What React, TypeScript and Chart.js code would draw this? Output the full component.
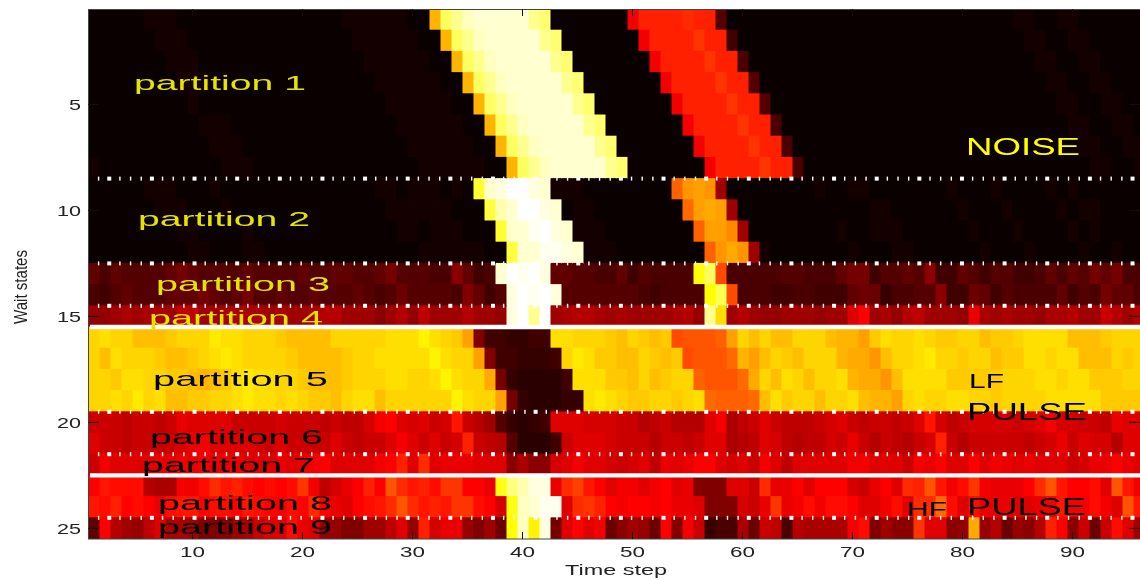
import React, { useEffect, useRef } from "react";
import { Chart, registerables } from "chart.js";

Chart.register(...registerables);

// Values are indices into the 64-level "hot" colormap (0..63), one array per wait state, 96 time steps.
const row01 = [0,0,0,0,0,1,1,1,0,0, 0,0,0,0,0,0,0,0,0,0, 0,0,0,1,1,1,1,1,1,0, 0,40,53,56,59,60,60,60,60,60, 56,54,0,0,0,0,0,0,0,22, 26,26,26,26,27,26,26,7,0,0, 0,0,0,0,0,0,0,0,0,0, 0,0,0,0,0,0,0,0,0,0, 0,0,0,0,1,1,0,0,1,1, 0,0,0,0,0,0];
const row02 = [0,0,0,0,0,0,1,1,1,0, 0,0,0,0,0,0,0,0,0,0, 0,0,0,0,1,1,1,1,1,1, 0,0,40,53,56,59,60,60,60,60, 60,56,54,0,0,0,0,0,0,0, 22,26,26,26,26,28,26,26,5,0, 0,0,0,0,0,0,0,0,0,0, 0,0,0,0,0,0,0,0,0,0, 0,0,0,0,0,1,1,0,0,1, 1,0,0,0,0,0];
const row03 = [0,0,0,0,0,0,0,1,1,1, 0,0,0,0,0,0,0,0,0,0, 0,0,0,0,0,1,1,1,1,1, 1,0,0,40,53,56,59,60,60,60, 60,60,56,54,0,0,0,0,0,0, 0,22,26,26,26,26,28,26,26,6, 0,0,0,0,0,0,0,0,0,0, 0,0,0,0,0,0,0,0,0,0, 0,0,0,0,0,0,1,1,0,0, 1,1,0,0,0,0];
const row04 = [0,0,0,0,0,0,0,0,1,1, 1,0,0,0,0,0,0,0,0,0, 0,0,0,0,0,0,1,1,1,1, 1,1,0,0,40,53,56,59,60,60, 60,60,60,56,54,0,0,0,0,0, 0,0,22,26,26,26,26,28,26,26, 7,0,0,0,0,0,0,0,0,0, 0,0,0,0,0,0,0,0,0,0, 0,0,0,0,0,0,0,1,1,0, 0,1,1,0,0,0];
const row05 = [0,0,0,0,0,0,0,0,0,1, 0,0,0,0,0,0,0,0,0,0, 0,0,0,0,0,0,0,1,1,1, 1,1,1,0,0,40,53,56,59,60, 60,60,60,60,56,54,0,0,0,0, 0,0,0,22,26,26,26,26,28,26, 26,7,0,0,0,0,0,0,0,0, 0,0,0,0,0,0,0,0,0,0, 0,0,0,0,0,0,0,0,1,1, 0,0,1,1,0,0];
const row06 = [0,0,0,0,0,0,0,0,0,0, 1,1,1,0,0,0,0,0,0,0, 0,0,0,0,0,0,0,0,1,1, 1,1,1,1,0,0,40,53,56,59, 60,60,60,60,60,56,54,0,0,0, 0,0,0,0,22,26,26,26,26,28, 26,26,6,0,0,0,0,0,0,0, 0,0,0,0,0,0,0,0,0,0, 0,0,0,0,0,0,0,0,0,1, 1,0,0,1,1,0];
const row07 = [0,0,0,0,0,0,0,0,0,0, 0,1,1,1,0,0,0,0,0,0, 0,0,0,0,0,0,0,0,0,1, 1,1,1,1,1,0,0,40,53,56, 59,60,60,60,60,60,56,54,0,0, 0,0,0,0,0,22,26,26,26,26, 28,26,26,6,0,0,0,0,0,0, 0,0,0,0,0,0,0,0,0,0, 0,0,0,0,0,0,0,0,0,0, 1,1,0,0,1,1];
const row08 = [1,0,0,0,0,0,0,0,0,0, 0,0,1,1,1,0,0,0,0,0, 0,0,0,0,0,0,0,0,0,0, 1,1,1,1,1,1,0,0,40,53, 56,59,60,60,60,60,60,56,54,0, 0,0,0,0,0,0,22,26,26,26, 26,28,26,26,6,0,0,0,0,0, 0,0,0,0,0,0,0,0,0,0, 0,0,0,0,0,0,0,0,0,0, 0,1,1,0,0,1];
const row09 = [0,0,0,0,0,1,1,1,0,0, 0,1,0,0,0,0,0,0,0,0, 0,0,0,0,0,0,1,1,0,1, 1,1,0,1,0,50,60,61,63,63, 61,60,1,1,1,0,0,0,0,0, 0,0,0,32,37,38,37,14,0,0, 0,0,0,0,0,0,1,0,0,1, 1,0,0,0,0,0,0,0,1,0, 0,0,1,0,0,0,0,1,0,1, 0,0,0,0,0,0];
const row10 = [0,0,0,0,0,0,1,1,1,0, 0,0,1,0,0,0,0,0,0,0, 0,0,0,0,0,0,0,1,1,1, 1,1,1,0,0,0,51,58,60,63, 63,61,60,0,1,1,0,0,0,0, 0,0,0,0,33,38,39,38,14,0, 0,0,0,0,0,0,0,0,0,0, 0,1,1,0,0,0,0,0,0,1, 0,0,0,1,0,0,0,0,1,0, 1,1,0,0,0,0];
const row11 = [0,0,0,0,0,0,0,0,1,1, 0,0,0,0,1,0,0,0,0,0, 0,0,0,0,0,0,0,0,1,1, 0,1,1,1,0,0,0,50,60,60, 62,63,61,60,1,1,1,0,0,0, 0,0,0,0,0,32,38,38,36,14, 0,0,0,0,0,0,0,0,1,0, 0,1,1,1,0,0,0,0,0,0, 1,0,0,0,1,0,0,0,0,1, 0,1,0,0,0,0];
const row12 = [0,0,0,0,0,0,0,0,0,1, 1,0,0,0,1,1,0,0,0,0, 0,0,0,0,0,0,0,0,0,0, 1,1,1,1,1,1,0,0,51,60, 60,62,62,61,60,1,1,1,0,0, 0,0,0,0,0,0,32,37,39,37, 14,1,0,0,0,0,0,0,0,1, 0,0,0,1,1,0,0,0,0,0, 0,1,0,0,0,1,0,0,0,0, 1,0,0,1,0,0];
const row13 = [8,6,8,7,7,7,7,8,10,8,7,7,7,7,8,7,7,7,7,8,7,7,8,8,7,7, 8,10,7,7,7,6,6,12,8,5, 6,60,63,62,63,61,8,8,7,7, 6,6,8,5,7,6,6,6,6,47,53,30,6,6,6, 6,6,7,7,6,6,6,8,10,10,5,7,7,8,7,12,5,5,8,7,5,7,7,5,5,6,8,6,8,7,10,8,10,6,6];
const row14 = [6,5,7,8,7,7,7,8,8,8,10,8,7,8,10,7,7,8,7,7,8,7,7,7,8,7, 6,7,9,7,7,7,7,6,11,8,5,7, 61,63,62,63,61, 7,7,7,7,7,7,7,6,5,6,6,6,6, 47,52,30,6,6, 6,5,5,6,6,5,5,5,8,9,9,4,6,6,7,7,12,5,5,9,8,5,7,6,6,6,6,8,5,7,6,10,8,8,6];
const row15 = [13,13,14,15,14,15,15,14,17,17,14,14,15,15,15,15,14,15,14,14,15,16,16,14,14,14, 12,14,16,13,17,14,14,14,16,14,14,13, 61,63,56,63, 14,15,16,16,15,14,15,14,14,14,14,15,16,13, 56,44,14,16,14, 13,13,14,14,14,13,14,14,20,23,14,15,13,16,17,14,14,14,13,21,15,14,15,14,14,13,15,15,16,14,14,18,16,14,16];
const row16 = [43,44,43,43,41,41,41,42,43,43,43,45,44,44,43,43,43,42,41,41,41,41,43,43,43,43, 43,44,44,44,46,44,43,42,38,11,5,5,4,4,5,5,44,44,43,43,43,42,41,43,42,41,42,30,31,31,31,32,38,43,41, 43,41,41,43,43,43,41,40,40,38,42,44,43,43,44,43,42,42,43,43,41,42,42,43,44,44,44,44,41,41,41,42,43,43,43];
const row17 = [43,41,44,43,43,43,42,41,41,42,43,44,45,44,43,43,43,43,42,41,41,41,41,42,43,43, 44,44,44,44,44,46,44,43,43,38,11,5,5,4,4,4,5,43,45,44,42,42,41,41,43,42,41,42,30,31,31,31,33,40,38, 41,43,42,41,43,43,43,40,39,39,37,41,43,43,44,45,43,43,42,43,43,41,42,42,44,44,43,44,44,41,41,41,43,42,43];
const row18 = [43,43,42,44,44,43,43,42,42,41,40,41,42,44,45,44,44,43,43,42,41,41,41,42,43,43, 43,44,44,43,43,44,46,44,43,43,39,10,4,3,3,3,3,5,44,44,44,42,42,41,43,41,42,43,43,32,31,31,31,33,39, 43,41,44,43,41,43,43,44,40,39,39,37,41,44,44,44,44,42,42,42,42,42,43,43,43,44,44,43,44,44,42,42,42,43,43];
const row19 = [43,43,44,43,45,43,44,41,41,42,42,43,43,44,45,44,44,43,44,43,42,42,41,43,44,44, 41,43,43,43,43,43,43,46,44,43,43,38,10,4,3,3,3,4,4,44,45,44,43,42,42,43,43,42,43,44,33,32,32,32,33, 41,44,42,43,43,41,43,43,44,41,40,40,38,43,44,43,43,44,44,43,43,42,43,43,43,43,44,44,44,44,44,42,42,42,42];
const row20 = [18,18,18,17,18,18,17,18,21,20,20,20,20,18,18,18,18,19,18,18,18,17,18,17,17,19, 22,23,20,19,20,18,19,25,18,16,14,7,4,3,4,5,20,20,20,19,19,19,18,18,16,17,18,16,16,16,20,22,15,17,18, 20,18,17,17,17,18,19,20,18,17,18,18,17,18,20,25,19,17,18,19,19,19,19,18,19,20,22,19,19,18,18,17,21,20,20];
const row21 = [20,18,18,17,18,18,18,18,19,21,22,20,20,20,20,19,18,20,18,18,18,18,20,18,17,18, 18,20,22,20,18,20,18,19,26,18,17,16,7,3,3,3,5,18,20,20,20,19,18,18,18,16,18,18,17,18,20,20,15,16,17, 20,19,17,16,17,17,19,18,21,18,16,18,17,16,18,19,26,18,16,18,18,18,18,18,17,18,19,21,18,20,19,19,16,20,20];
const row22 = [18,22,20,20,20,20,21,20,22,21,22,21,21,21,20,20,20,21,20,21,22,23,20,20,20,20, 22,23,26,20,27,20,21,21,21,20,20,20,12,15,12,12,19,20,22,20,20,19,18,19,20,17,21,20,21,23,23,20,19,20,18, 22,20,17,20,20,20,20,20,22,22,20,20,20,18,22,21,23,20,20,23,20,22,21,20,21,20,20,20,18,19,21,21,23,21,20];
const row23 = [23,25,24,24,24,16,15,15,22,22,24,27,25,26,24,23,24,23,24,28,22,17,19,21,23,26, 23,31,27,25,26,24,28,28,23,23,21,48,55,58,61,61,21,27,29,25,23,20,22,22,20,22,23,20,21,11,11,11,20,20,18, 27,21,21,23,20,23,23,23,19,18,21,23,20,27,26,31,25,22,24,28,22,21,21,21,23,27,31,25,23,23,24,20,31,25,22];
const row24 = [25,24,26,23,24,23,21,24,25,25,23,24,24,23,25,24,23,22,24,23,27,23,21,20,23,24, 25,27,31,27,25,26,25,28,28,24,23,19,48,59,60,62,62,20,27,28,26,23,22,23,23,22,23,21,21,20,11,11,11,19,18, 21,28,21,22,24,22,24,24,23,20,20,22,24,20,27,27,33,24,20,24,21,21,21,20,20,21,22,25,22,22,24,22,20,31,25];
const row25 = [8,23,16,14,13,17,20,15,15,14,11,11,12,14,15,18,20,20,24,21,20,13,13,11,11,14, 14,17,20,13,26,19,21,21,13,11,14,9,47,59,46,61,10,20,23,20,22,9,12,14,13,9,23,11,22,18,4,6,6,15,9, 18,17,6,16,15,15,15,15,22,24,11,14,12,12,28,20,20,12,13,39,13,16,9,13,12,16,26,23,12,18,9,18,24,20,14];

const waitStates = [row01,row02,row03,row04,row05,row06,row07,row08,row09,row10,row11,row12,row13,row14,row15,row16,row17,row18,row19,row20,row21,row22,row23,row24,row25];
const rowLabels = waitStates.map((_, i) => String(i + 1));
const timeSteps = row01.map((_, i) => i + 1);

const xTickValues = [10, 20, 30, 40, 50, 60, 70, 80, 90];
const yTickValues = [5, 10, 15, 20, 25];
const dottedAfterRow = [8, 12, 14, 19, 21, 24];
const solidAfterRow = [15, 22];
const xTitle = "Time step";
const yTitle = "Wait states";

const notes = [
  { text: "partition 1", left: 134, right: 306, base: 90, size: 21, color: "#e4e400" },
  { text: "partition 2", left: 138, right: 310, base: 225.5, size: 21, color: "#e4e400" },
  { text: "partition 3", left: 156, right: 330, base: 290.5, size: 21, color: "#e4e400" },
  { text: "partition 4", left: 149, right: 323, base: 325, size: 21, color: "#e4e400" },
  { text: "partition 5", left: 153, right: 328, base: 385.5, size: 21, color: "#000" },
  { text: "partition 6", left: 150, right: 323, base: 444, size: 21, color: "#000" },
  { text: "partition 7", left: 142, right: 315, base: 472, size: 21, color: "#000" },
  { text: "partition 8", left: 158, right: 332, base: 509.5, size: 21, color: "#000" },
  { text: "partition 9", left: 158, right: 332, base: 534, size: 21, color: "#000" },
  { text: "NOISE", left: 966, right: 1080, base: 155, size: 23, color: "#ffff00" },
  { text: "LF", left: 969, right: 1004, base: 388, size: 21, color: "#000" },
  { text: "PULSE", left: 967, right: 1087, base: 420, size: 23, color: "#000" },
  { text: "HF", left: 907, right: 947, base: 515.5, size: 21, color: "#000" },
  { text: "PULSE", left: 967, right: 1086, base: 515, size: 23, color: "#000" },
];

function hot(level: number) {
  const r = Math.min(1, (level + 1) / 24);
  const g = Math.max(0, Math.min(1, (level - 23) / 24));
  const b = Math.max(0, Math.min(1, (level - 47) / 16));
  return `rgb(${Math.round(r * 255)},${Math.round(g * 255)},${Math.round(b * 255)})`;
}

const FONT = '"Liberation Sans", Arial, sans-serif';

function fitText(ctx: any, text: string, left: number, right: number, base: number, size: number, color: string) {
  ctx.save();
  ctx.font = `${size}px ${FONT}`;
  ctx.fillStyle = color;
  ctx.textAlign = "left";
  ctx.textBaseline = "alphabetic";
  const w = ctx.measureText(text).width;
  ctx.translate(left, base);
  ctx.scale((right - left) / w, 1);
  ctx.fillText(text, 0, 0);
  ctx.restore();
}

const overlay = {
  id: "overlay",
  afterDatasetsDraw(chart: any) {
    const { ctx, chartArea: a, scales } = chart;
    const x = scales.x;
    const y = scales.y;
    const edge = (row: number) => (y.getPixelForValue(row - 1) + y.getPixelForValue(row)) / 2;

    ctx.save();
    // partition separators
    ctx.strokeStyle = "#fff";
    for (const r of solidAfterRow) {
      const py = edge(r);
      ctx.lineWidth = 4.4;
      ctx.beginPath();
      ctx.moveTo(a.left + 2, py);
      ctx.lineTo(a.right, py);
      ctx.stroke();
    }
    ctx.fillStyle = "#fff";
    for (const r of dottedAfterRow) {
      const py = edge(r);
      const unit = (x.getPixelForValue(20) - x.getPixelForValue(10)) / 10.32;
      let k = 0;
      for (let px = a.left + 10.6; px < a.right; px += unit) {
        const big = k % 4 === 1;
        if (big) ctx.fillRect(px - 2, py - 2, 4, 4);
        else ctx.fillRect(px - 0.7, py - 2, 1.4, 4);
        k++;
      }
    }

    // frame
    ctx.strokeStyle = "#444";
    ctx.lineWidth = 1;
    ctx.beginPath();
    ctx.moveTo(a.left + 0.5, a.top);
    ctx.lineTo(a.left + 0.5, a.bottom);
    ctx.moveTo(a.left, a.top + 0.5);
    ctx.lineTo(a.right, a.top + 0.5);
    ctx.moveTo(a.left, a.bottom);
    ctx.lineTo(a.right, a.bottom);
    ctx.stroke();

    // inward ticks and labels
    ctx.strokeStyle = "#111";
    for (const v of xTickValues) {
      const px = x.getPixelForValue(v);
      ctx.beginPath();
      ctx.moveTo(px, a.bottom);
      ctx.lineTo(px, a.bottom - 7);
      ctx.moveTo(px, a.top);
      ctx.lineTo(px, a.top + 7);
      ctx.stroke();
      fitText(ctx, String(v), px - 12.5, px + 12.5, 556.5, 14, "#222");
    }
    for (const v of yTickValues) {
      const py = y.getPixelForValue(v - 1);
      ctx.beginPath();
      ctx.moveTo(a.left, py);
      ctx.lineTo(a.left + 11, py);
      ctx.moveTo(a.right, py);
      ctx.lineTo(a.right - 11, py);
      ctx.stroke();
      const w = String(v).length * 12;
      fitText(ctx, String(v), 81 - w, 81, py + 5.5, 14, "#222");
    }

    // axis titles
    fitText(ctx, xTitle, 565, 667, 575, 15, "#222");
    ctx.save();
    ctx.translate(27, 324);
    ctx.rotate(-Math.PI / 2);
    fitText(ctx, yTitle, 0, 74, 0, 19, "#222");
    ctx.restore();

    // annotations
    for (const n of notes) fitText(ctx, n.text, n.left, n.right, n.base, n.size, n.color);
    ctx.restore();
  },
};

export default function App() {
  const ref = useRef<HTMLCanvasElement>(null);
  useEffect(() => {
    const chart = new Chart(ref.current as HTMLCanvasElement, {
      type: "bar",
      data: {
        labels: rowLabels,
        datasets: timeSteps.map((t) => ({
          data: waitStates.map(() => [t - 0.5, t + 0.5]),
          backgroundColor: waitStates.map((r) => hot(r[t - 1])),
          borderWidth: 0,
          inflateAmount: 0.5,
          grouped: false,
          categoryPercentage: 1,
          barPercentage: 1,
        })),
      } as any,
      options: {
        indexAxis: "y",
        responsive: false,
        animation: false,
        events: [],
        layout: { padding: { top: 9, left: 0, right: 0, bottom: 0 } },
        plugins: { legend: { display: false }, tooltip: { enabled: false }, title: { display: false } },
        scales: {
          x: {
            type: "linear",
            min: 0.5,
            max: 96.136,
            grid: { display: false },
            border: { display: false },
            ticks: { display: false },
            afterBuildTicks: (s: any) => {
              s.ticks = xTickValues.map((value) => ({ value }));
            },
            afterFit: (s: any) => {
              s.height = 41;
            },
          },
          y: {
            type: "category",
            offset: true,
            grid: { display: false },
            border: { display: false },
            ticks: { display: false },
            afterFit: (s: any) => {
              s.width = 88;
            },
          },
        },
      } as any,
      plugins: [overlay],
    });
    return () => chart.destroy();
  }, []);
  return (
    <div style={{ position: "absolute", left: 0, top: 0, width: 1140, height: 580, background: "#fff" }}>
      <canvas ref={ref} width={1140} height={580} style={{ display: "block" }} />
    </div>
  );
}
